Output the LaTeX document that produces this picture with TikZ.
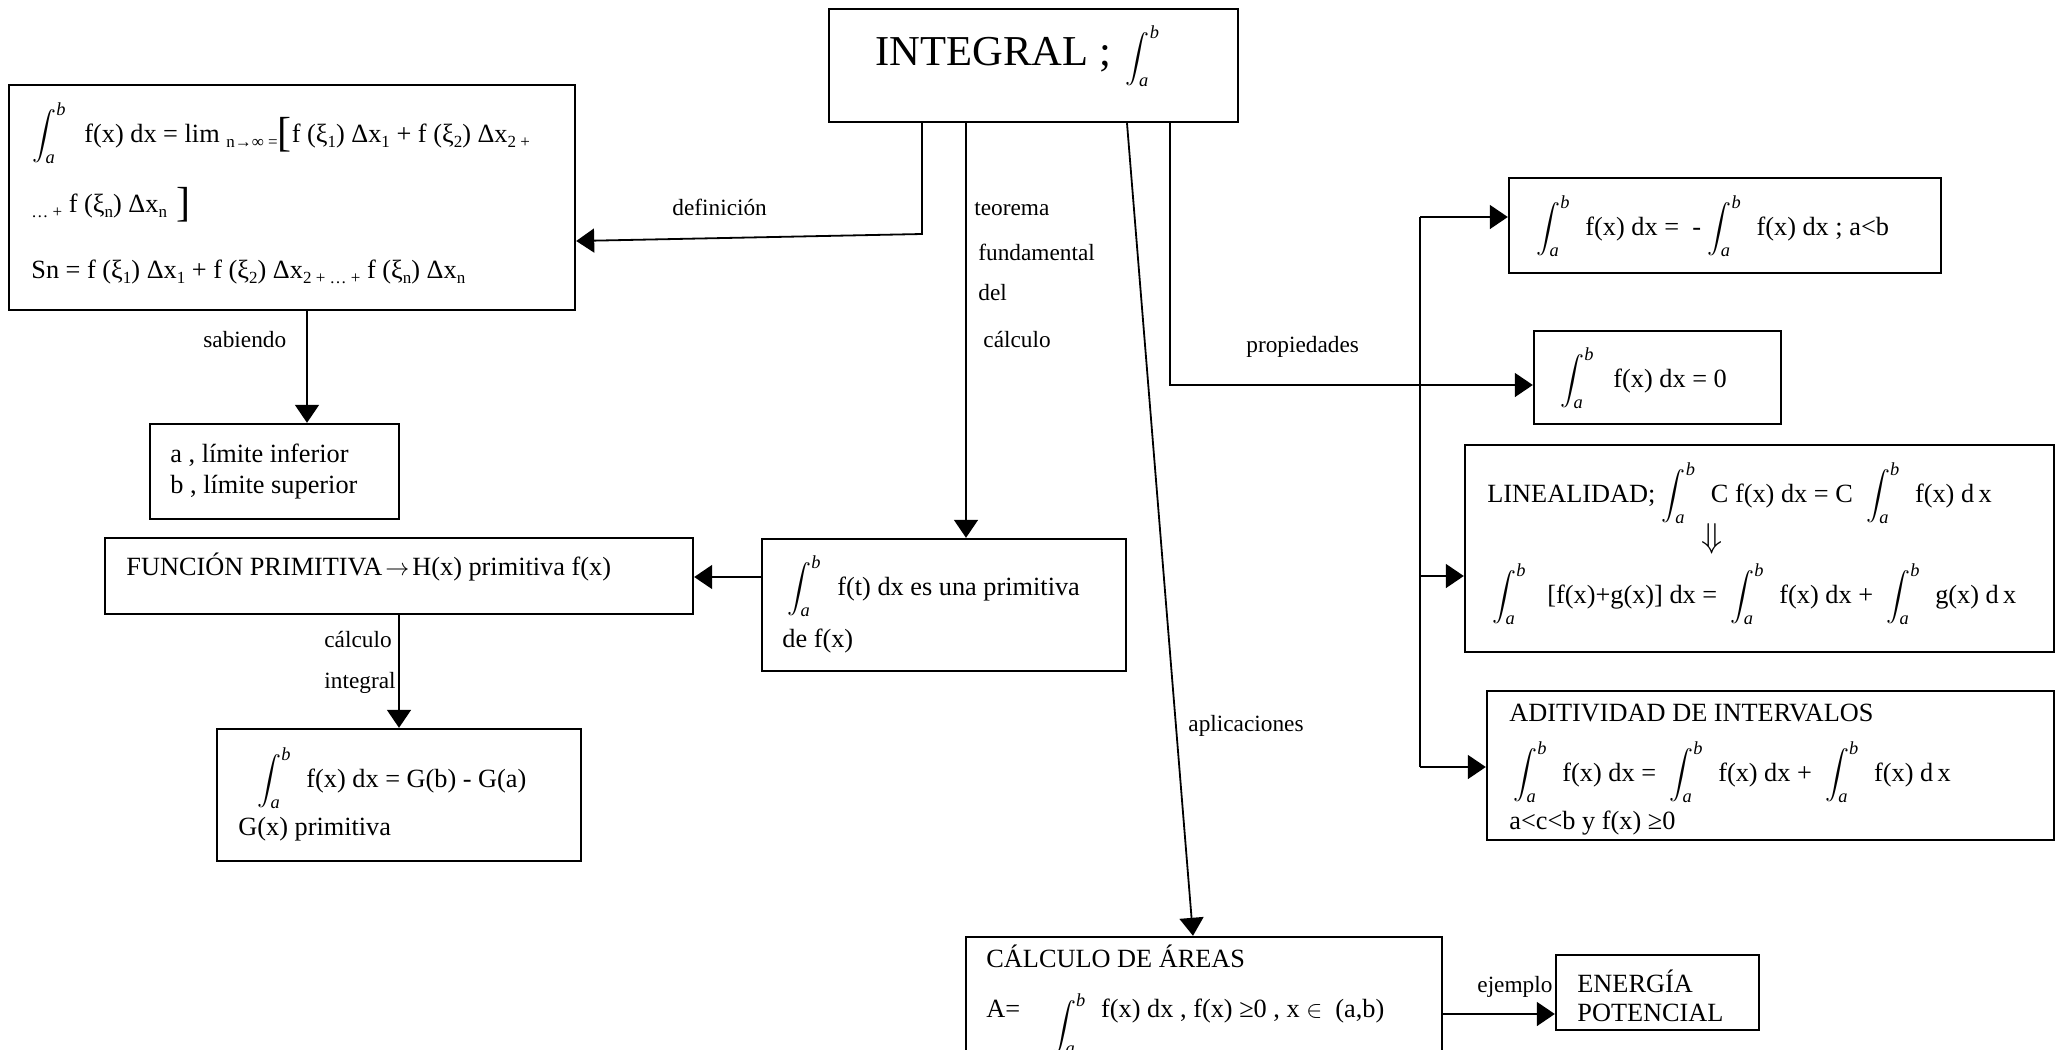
\documentclass[tikz,border=0pt]{standalone}
\usepackage{amsmath}
\usepackage{fontspec}
\setmainfont{Liberation Serif}
\usetikzlibrary{arrows.meta,fit}

% lowered small text (indices, small operators)
\newcommand\lo[1]{\raisebox{-2.5pt}{\fontsize{8.5}{8.5}\selectfont #1}}
% definite integral from a to b, followed by a fixed advance
\newcommand\Int[1][24.5pt]{\makebox[#1][l]{$\displaystyle\int_{\textit{a}}^{\textit{b}}$}}
\newcommand\bigbr[1]{\raisebox{-2pt}{\fontsize{21}{21}\selectfont #1}}

\tikzset{
  box/.style={draw, line width=1.2pt, inner sep=0pt},
  txt/.style={inner sep=0pt, anchor=base west, font=\fontsize{13.15}{15}\selectfont},
  lbl/.style={inner sep=0pt, anchor=base west, font=\fontsize{11.65}{13}\selectfont},
  link/.style={line width=0.9pt},
  conn/.style={link, -{Triangle[length=9pt,width=12pt]}},
}

\begin{document}
\begin{tikzpicture}[x=0.5pt,y=-0.5pt]
\useasboundingbox (0,0) rectangle (2058,1050);
\clip (0,0) rectangle (2058,1050);

% ---------- boxes ----------
\node[box, fit={(829,9) (1238,122)}]    (top)   {};
\node[box, fit={(9,85) (575,310)}]      (def)   {};
\node[box, fit={(150,424) (399,519)}]   (lim)   {};
\node[box, fit={(105,538) (693,614)}]   (func)  {};
\node[box, fit={(762,539) (1126,671)}]  (fund)  {};
\node[box, fit={(217,729) (581,861)}]   (gbox)  {};
\node[box, fit={(1509,178) (1941,273)}] (p1)    {};
\node[box, fit={(1534,331) (1781,424)}] (p2)    {};
\node[box, fit={(1465,445) (2054,652)}] (p3)    {};
\node[box, fit={(1487,691) (2054,840)}] (p4)    {};
\node[box, fit={(966,937) (1442,1080)}] (areas) {};
\node[box, fit={(1556,955) (1759,1030)}] (energ) {};

% ---------- texts in boxes ----------
\node[txt, font=\fontsize{21.3}{23}\selectfont] (topT) at (875,65) {INTEGRAL ;\hspace{7.5pt}{\fontsize{13.15}{15}\selectfont\Int}};

\node[txt] (defA) at (32,142) {\Int[26pt]f(x) dx = lim \lo{n→∞ =}\bigbr{[}f (ξ\lo{1}) Δx\lo{1}\ + f (ξ\lo{2}) Δx\lo{2 +}};
\node[txt] (defB) at (31,212) {\lo{… +} f (ξ\lo{n}) Δx\lo{n}\hspace{4.5pt}\bigbr{]}};
\node[txt] (defC) at (31,278) {Sn = f (ξ\lo{1}) Δx\lo{1}\ + f (ξ\lo{2}) Δx\lo{2 + … +} f (ξ\lo{n}) Δx\lo{n}};

\node[txt] (limA) at (170,462) {a , límite inferior};
\node[txt] (limB) at (170,493) {b , límite superior};

\node[txt] (funcT) at (126,575) {FUNCIÓN PRIMITIVA\hspace{1.5pt}$\rightarrow$\hspace{1.5pt}H(x) primitiva f(x)};

\node[txt] (fundA) at (787,595) {\Int[25pt]f(t) dx es una primitiva};
\node[txt] (fundB) at (782,647) {de f(x)};

\node[txt] (gA) at (257,787) {\Int f(x) dx = G(b) - G(a)};
\node[txt] (gB) at (238,835) {G(x) primitiva};

\node[txt] (p1T) at (1536,235) {\Int f(x) dx = \ - \Int f(x) dx ; a<b};
\node[txt] (p2T) at (1560,387) {\Int[26.5pt]f(x) dx = 0};

\node[txt] (p3A) at (1487,502) {LINEALIDAD;\ \Int C f(x) dx = C\ \ \Int f(x) d\,x};
\node[txt, anchor=center, font=\fontsize{16}{16}\selectfont] (p3B) at (1712,539) {$\Downarrow$};
\node[txt] (p3C) at (1492,603) {\Int[27.5pt][f(x)+g(x)] dx = \ \Int f(x) dx + \ \Int g(x) d\,x};

\node[txt] (p4A) at (1509,721) {ADITIVIDAD DE INTERVALOS};
\node[txt] (p4B) at (1513,781) {\Int f(x) dx = \ \Int f(x) dx + \ \Int f(x) d\,x};
\node[txt] (p4C) at (1509,829) {a<c<b y f(x) ≥0};

\node[txt] (arA) at (986,967) {CÁLCULO DE ÁREAS};
\node[txt] (arB) at (986,1017) {A=\hspace{16pt}\raisebox{-8pt}{\Int}f(x) dx , f(x) ≥0 , x $\in$\ \ (a,b)};

\node[txt] (enA) at (1577,992) {ENERGÍA};
\node[txt] (enB) at (1577,1021) {POTENCIAL};

% ---------- connector labels ----------
\node[lbl] (lDef)  at (672,215)  {definición};
\node[lbl] (lTeo1) at (974,215)  {teorema};
\node[lbl] (lTeo2) at (978,260)  {fundamental};
\node[lbl] (lTeo3) at (978,300)  {del};
\node[lbl] (lTeo4) at (983,347)  {cálculo};
\node[lbl] (lProp) at (1246,352) {propiedades};
\node[lbl] (lApl)  at (1188,731) {aplicaciones};
\node[lbl] (lSab)  at (203,347)  {sabiendo};
\node[lbl] (lCal1) at (324,647)  {cálculo};
\node[lbl] (lCal2) at (324,688)  {integral};
\node[lbl] (lEje)  at (1477,992) {ejemplo};

% ---------- connectors ----------
\coordinate (dl)   at (922,234);
\coordinate (tf)   at (966,0);
\coordinate (ap1)  at (1127,0);
\coordinate (ap2)  at (1193,0);
\coordinate (pr)   at (1170,385);
\coordinate (bus1) at (1420,217);
\coordinate (bus3) at (1420,576);
\coordinate (bus4) at (1420,767);
\coordinate (sb)   at (307,0);
\coordinate (fp)   at (0,577);
\coordinate (ci)   at (399,0);
\coordinate (ej)   at (0,1014);

\draw[conn] (top.south -| dl) -- (dl) -- ([yshift=-21.75pt]def.east);
\draw[conn] (top.south -| tf) -- (fund.north -| tf);
\draw[conn] (top.south -| ap1) -- (areas.north -| ap2);
\draw[conn] (top.south -| pr) |- (p2.west |- pr);
\draw[link] (bus1) -- (bus4);
\draw[conn] (bus1) -- (p1.west |- bus1);
\draw[conn] (bus3) -- (p3.west |- bus3);
\draw[conn] (bus4) -- (p4.west |- bus4);
\draw[conn] (def.south -| sb) -- (lim.north -| sb);
\draw[conn] (fund.west |- fp) -- (func.east |- fp);
\draw[conn] (func.south -| ci) -- (gbox.north -| ci);
\draw[conn] (areas.east |- ej) -- (energ.west |- ej);
\end{tikzpicture}
\end{document}
